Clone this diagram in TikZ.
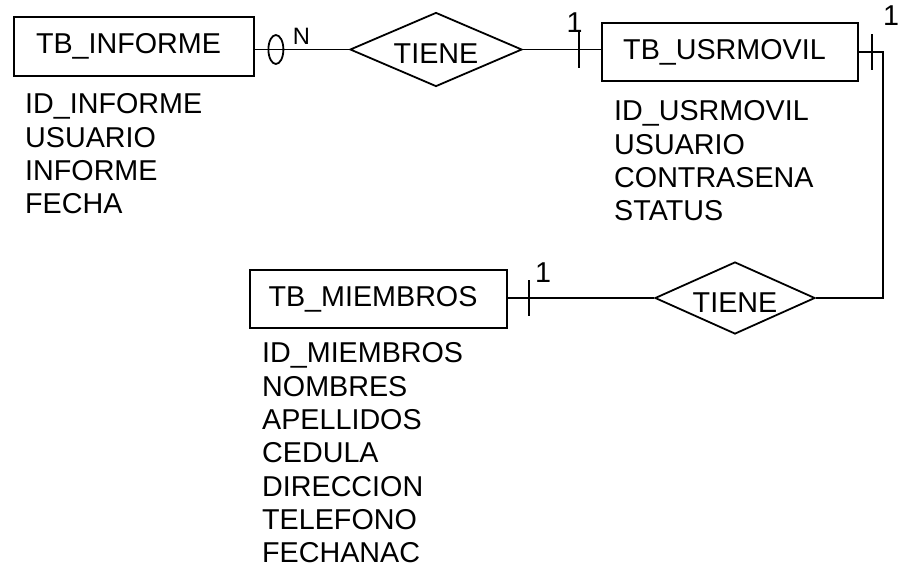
\documentclass[tikz,border=0pt]{standalone}
\usepackage{fontspec}
\setmainfont{Liberation Sans}
\usetikzlibrary{shapes.geometric,calc}
\begin{document}
\begin{tikzpicture}[x=1pt,y=-1pt,
  every node/.style={font=\fontsize{28.7}{33.3}\selectfont},
  line width=1.8pt,
  entity/.style={draw, rectangle, inner sep=0pt, execute at end node={\hspace*{11pt}}},
  relation/.style={draw, diamond, inner sep=0pt, aspect=2.3, text height=28.5pt, text depth=0pt},
  attrs/.style={anchor=north west, inner sep=0pt, align=left},
  card/.style={inner sep=0pt}]
\useasboundingbox (0,0) rectangle (898,576);

% entities
\node[entity, minimum width=240pt, minimum height=59pt] (inf) at (134,46.5) {TB\_INFORME};
\node[entity, minimum width=256pt, minimum height=58pt] (usr) at (730,52) {TB\_USRMOVIL};
\node[entity, minimum width=257pt, minimum height=58pt] (mie) at (378.5,299) {TB\_MIEMBROS};

% relationships
\node[relation, minimum width=172pt, minimum height=74pt] (d1) at (436,49.5) {TIENE};
\node[relation, minimum width=160pt, minimum height=72pt] (d2) at (735,298) {TIENE};

% attribute lists
\node[attrs] (infa) at (24.3,93) {ID\_INFORME\\USUARIO\\INFORME\\FECHA};
\node[attrs] (usra) at (613.3,100) {ID\_USRMOVIL\\USUARIO\\CONTRASENA\\STATUS};
\node[attrs] (miea) at (261.3,342) {ID\_MIEMBROS\\NOMBRES\\APELLIDOS\\CEDULA\\DIRECCION\\TELEFONO\\FECHANAC};

% connectors
\draw (inf.east |- d1.west) -- (d1.west);
\draw (d1.east) -- (d1.east -| usr.west);
\draw (usr.east) -- ++(24,0) |- (d2.east);
\draw (d2.west) -- (d2.west -| mie.east);

% cardinality marks
\draw ($(inf.east |- d1.west)+(21,0)$) ellipse [x radius=7.5pt, y radius=14.5pt];
\draw ($(d1.east -| usr.west)+(-22,-18)$) -- ++(0,36);
\draw ($(usr.east)+(13,-18)$) -- ++(0,36);
\draw ($(d2.west -| mie.east)+(21,-18)$) -- ++(0,36);

% cardinality labels
\node[card, font=\fontsize{23.7}{24}\selectfont] (n1) at (301.5,36.5) {N};
\node[card] (c1) at (574.5,23) {1};
\node[card] (c2) at (891,16) {1};
\node[card] (c3) at (543,272.5) {1};
\end{tikzpicture}
\end{document}
